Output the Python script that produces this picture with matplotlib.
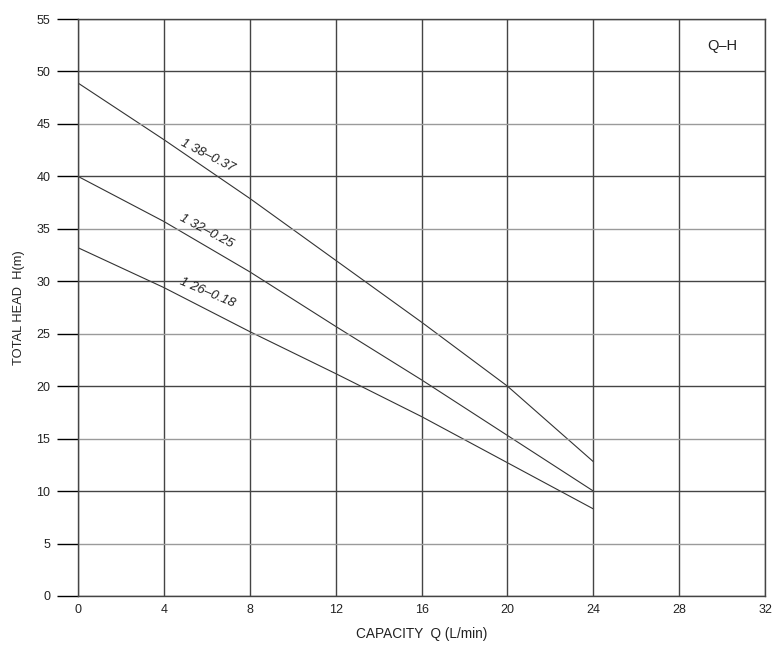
import numpy as np
import matplotlib
matplotlib.use("Agg")
from matplotlib import pyplot as plt

plt.rcParams['font.family'] = ['Liberation Sans', 'DejaVu Sans']

flow = [0, 4, 8, 12, 16, 20, 24]
head_038 = [48.9, 43.5, 37.9, 32.0, 26.1, 20.0, 12.8]
head_032 = [40.0, 35.7, 30.9, 25.7, 20.6, 15.3, 10.0]
head_026 = [33.2, 29.4, 25.2, 21.2, 17.1, 12.7, 8.3]

labels = ["1 38\u20130.37", "1 32\u20130.25", "1 26\u20130.18"]
label_xy = [(6.05, 42.0), (6.0, 34.8), (6.0, 28.9)]
label_rot = [-27, -28, -23]

xticks = list(range(0, 33, 4))
yticks = list(range(0, 56, 5))

fig = plt.figure(figsize=(7.8, 6.45), dpi=100)
ax = fig.add_axes([0.1, 0.076, 0.881, 0.8945])

for h in [head_038, head_032, head_026]:
    ax.plot(flow, h, color='#333333', linewidth=0.8)

for txt, (x, y), r in zip(labels, label_xy, label_rot):
    ax.text(x, y, txt, rotation=r, ha='center', va='center',
            fontsize=9.5, style='italic', color='#222222')

ax.text(30.0, 52.4, "Q\u2013H", ha='center', va='center', fontsize=10.5, color='#222222')

ax.set_xlim(0, 32)
ax.set_ylim(0, 55)
ax.set_xticks(xticks)
ax.set_yticks(yticks)
ax.tick_params(axis='x', length=0, pad=6, labelsize=9, labelcolor='#222222')
ax.tick_params(axis='y', length=15, width=1, direction='out', pad=5,
               labelsize=9, labelcolor='#222222')

for x in xticks:
    ax.axvline(x, color='#444444', linewidth=1)
for y, tl in zip(yticks, ax.yaxis.get_ticklines()[::2]):
    c = '#444444' if y % 10 == 0 or y == 55 else '#9a9a9a'
    ax.axhline(y, color=c, linewidth=1)
    tl.set_color(c)

for s in ax.spines.values():
    s.set_color('#444444')
    s.set_linewidth(1)

ax.set_xlabel("CAPACITY  Q (L/min)", fontsize=9.8, color='#222222', labelpad=8)
ax.set_ylabel("TOTAL HEAD  H(m)", fontsize=9.3, color='#222222', labelpad=8)

fig.savefig("out.png", dpi=100)
